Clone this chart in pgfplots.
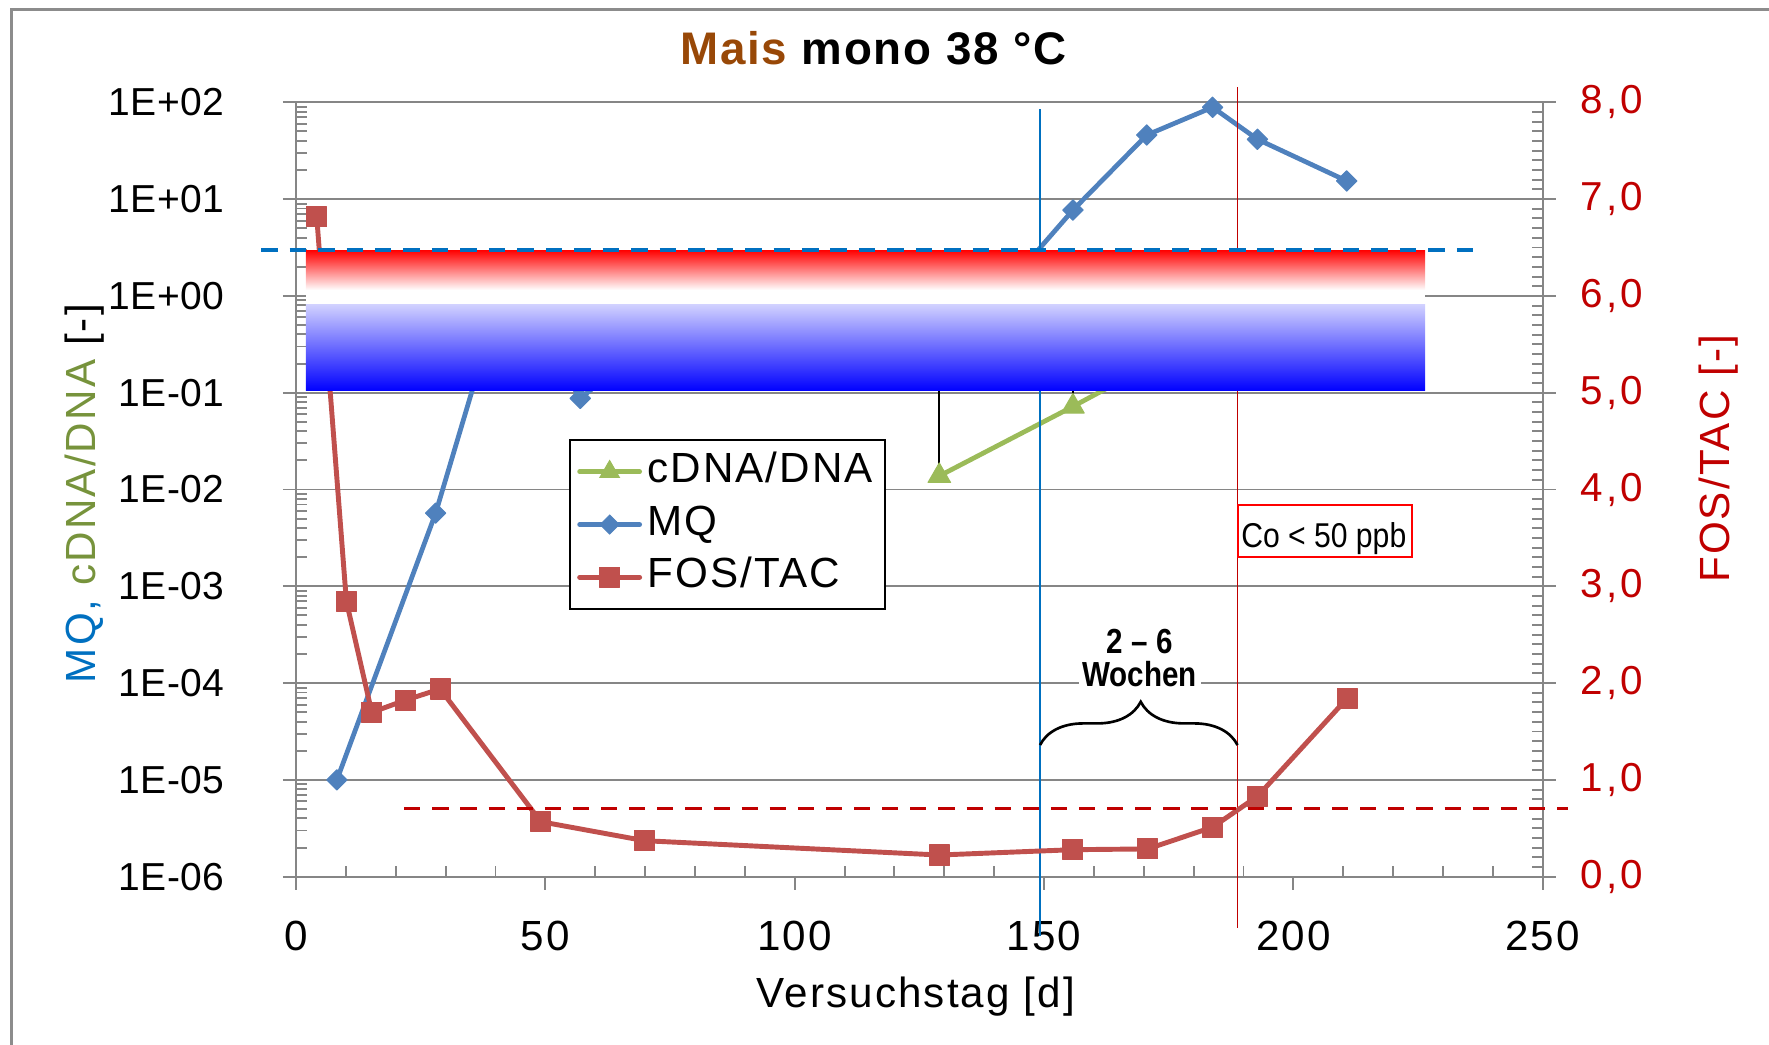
\documentclass[border=0pt]{standalone}
\usepackage{fontspec}
\setmainfont{Liberation Sans}[LetterSpace=5]
\usepackage{graphicx}
\usepackage{pgfplots}
\pgfplotsset{compat=1.18}
\usetikzlibrary{decorations.pathreplacing}

\definecolor{mqblue}{HTML}{4F81BD}
\definecolor{fosred}{HTML}{C0504D}
\definecolor{dnagreen}{HTML}{9BBB59}
\definecolor{lblblue}{HTML}{0070C0}
\definecolor{lblgreen}{HTML}{77933C}
\definecolor{darkred}{HTML}{C00000}
\definecolor{maisbrown}{HTML}{984807}
\definecolor{axgray}{HTML}{868686}
\definecolor{framegray}{HTML}{8C8C8C}
\definecolor{lav}{RGB}{210,210,255}

\begin{document}
\begin{tikzpicture}
\useasboundingbox (0,0) rectangle (17.69,10.44);
\draw[framegray, line width=0.7pt] (0.115,-1) rectangle (19,10.347);

% ---------------- left (log) axis ----------------
\begin{axis}[
  at={(2.96cm,1.673cm)}, anchor=south west,
  width=12.467cm, height=7.744cm, scale only axis,
  xmin=0, xmax=250, ymode=log, ymin=1e-6, ymax=1e2,
  axis x line*=bottom, axis y line*=left,
  axis line style={axgray, line width=0.6pt, -},
  xtick={0,50,100,150,200,250}, minor x tick num=4,
  ytick={1e-6,1e-5,1e-4,1e-3,1e-2,1e-1,1,10,100},
  yticklabels={1E-06,1E-05,1E-04,1E-03,1E-02,1E-01,1E+00,1E+01,1E+02},
  tick align=outside,
  major tick length=3.7pt, minor tick length=3.05pt,
  tick style={axgray, line width=0.55pt},
  minor x tick style={yshift=3.05pt},
  minor y tick style={xshift=3.05pt},
  ymajorgrids, grid style={axgray, line width=0.5pt},
  /pgf/number format/assume math mode=true,
  yticklabel style={font=\fontsize{11.1}{12}\selectfont\addfontfeatures{LetterSpace=1.5}, anchor=east, inner sep=0pt, xshift=-16.4pt},
  xticklabel style={font=\fontsize{12}{12}\selectfont, anchor=north, inner sep=0pt, yshift=-8.6pt},
  clip=false,
]
% error bars of cDNA/DNA (upper ends hidden by the band)
\addplot[black, line width=0.5pt, forget plot] coordinates {(129,0.0138) (129,0.4)};
\addplot[black, line width=0.5pt, forget plot] coordinates {(155.8,0.072) (155.8,0.5)};
% MQ
\addplot[mqblue, line width=1.35pt, line join=round, mark=square*, mark size=2.05pt,
  mark options={rotate=45, line width=0.3pt}] coordinates {
  (8.2,1e-5) (28.0,5.7e-3) (42,1.5) (57.0,0.0875) (70,0.3) (129,0.2)
  (155.8,7.7) (170.6,45.9) (183.8,88.8) (192.8,41.5) (210.7,15.4)};
% cDNA/DNA
\addplot[dnagreen, line width=1.35pt, line join=round, mark=triangle*, mark size=3.7pt,
  mark options={line width=0.3pt}] coordinates {
  (129,0.0138) (155.8,0.072) (171,0.19) (184,0.4) (193,0.35) (210.7,0.3)};
\end{axis}

% ---------------- right (linear) axis ----------------
\begin{axis}[
  at={(2.96cm,1.673cm)}, anchor=south west,
  width=12.467cm, height=7.744cm, scale only axis,
  xmin=0, xmax=250, ymin=0, ymax=8,
  axis y line*=right, axis x line=none, xtick=\empty,
  axis line style={axgray, line width=0.6pt, -},
  ytick={0,1,2,3,4,5,6,7,8}, minor y tick num=9,
  tick align=outside,
  major tick length=3.7pt, minor tick length=3.05pt,
  tick style={axgray, line width=0.55pt},
  minor y tick style={xshift=-3.05pt},
  /pgf/number format/assume math mode=true,
  yticklabel style={text=darkred, font=\fontsize{11.5}{12}\selectfont\addfontfeatures{LetterSpace=8}, anchor=west, inner sep=0pt, xshift=6.9pt,
    /pgf/number format/.cd, fixed, fixed zerofill, precision=1, use comma},
  clip=false,
  legend style={at={(0.2192,0.5648)}, anchor=north west, draw=black, line width=0.5pt, fill=white,
    font=\fontsize{12}{14}\selectfont, row sep=0pt, inner xsep=2pt, inner ysep=1.5pt,
    nodes={text height=9pt, text depth=3pt, inner sep=1.5pt}},
  legend cell align=left,
]
% vertical marker lines
\addplot[lblblue, line width=0.5pt, forget plot] coordinates {(149.2,7.928) (149.2,-0.613)};
\addplot[darkred, line width=0.55pt, forget plot] coordinates {(188.8,8.155) (188.8,-0.527)};

\addlegendimage{dnagreen, line width=1.35pt, line cap=round, mark=triangle*, mark size=3.2pt, mark options={line width=0.3pt}}
\addlegendentry{cDNA/DNA}
\addlegendimage{mqblue, line width=1.35pt, line cap=round, mark=square*, mark size=1.9pt, mark options={rotate=45, line width=0.3pt}}
\addlegendentry{MQ}
% FOS/TAC
\addplot[fosred, line width=1.4pt, line join=round, line cap=round, mark=square*, mark size=2.85pt,
  mark options={line width=0.3pt}] coordinates {
  (4.15,6.82) (10.1,2.846) (15.2,1.698) (22.0,1.825) (28.9,1.939) (49.1,0.568)
  (69.9,0.372) (129.0,0.224) (155.8,0.279) (170.8,0.287) (183.8,0.512)
  (192.8,0.830) (210.8,1.843)};
\addlegendentry{FOS/TAC}

% gradient band
\shade[top color=red, bottom color=white] (axis cs:2,6.06) rectangle (axis cs:226.4,6.474);
\fill[white] (axis cs:2,5.915) rectangle (axis cs:226.4,6.06);
\shade[top color=lav, bottom color=blue] (axis cs:2,5.018) rectangle (axis cs:226.4,5.915);

% threshold lines
\addplot[lblblue, line width=1pt, dash pattern=on 4.7pt off 3.4pt, forget plot] coordinates {(-7.0,6.474) (237.8,6.474)};
\addplot[darkred, line width=1pt, dash pattern=on 4.6pt off 3.4pt, forget plot] coordinates {(21.7,0.707) (255.1,0.707)};

% brace and text
\draw[black, line width=0.75pt, decorate, decoration={brace, amplitude=4.33mm, aspect=0.51}]
  (axis cs:149.2,1.36) -- (axis cs:188.8,1.36);
\node[anchor=base, inner sep=0pt] at (axis cs:169.2,2.308)
  {\fontsize{9.9}{10}\selectfont\addfontfeatures{LetterSpace=0}\scalebox{0.85}[1]{\bfseries 2 – 6}};
\node[anchor=base, fill=white, inner xsep=1pt, inner ysep=0.5pt] at (axis cs:169.2,1.970)
  {\fontsize{9.9}{10}\selectfont\addfontfeatures{LetterSpace=0}\scalebox{0.85}[1]{\bfseries Wochen}};

% Co box
\draw[red, line width=0.55pt, fill=white] (axis cs:188.98,3.300) rectangle (axis cs:223.8,3.843);
\node[anchor=base, inner sep=0pt] at (axis cs:206.1,3.398)
  {\fontsize{9.8}{10}\selectfont\addfontfeatures{LetterSpace=0}\scalebox{0.875}[1]{Co < 50 ppb}};
\end{axis}

% title and axis labels
\node[anchor=base, inner sep=0pt] at (8.733,9.79)
  {\fontsize{13}{13}\selectfont\bfseries\addfontfeatures{LetterSpace=4}{\color{maisbrown}Mais} mono 38 °C};
\node[anchor=base, inner sep=0pt] at (9.158,0.362)
  {\fontsize{12}{12}\selectfont Versuchstag [d]};
\node[rotate=90, anchor=base, inner sep=0pt] at (0.957,5.503)
  {\fontsize{12}{12}\selectfont{\color{lblblue}MQ,} {\color{lblgreen}cDNA/DNA} [-]};
\node[rotate=90, anchor=base, inner sep=0pt, text=darkred] at (17.297,5.851)
  {\fontsize{12}{12}\selectfont FOS/TAC [-]};
\end{tikzpicture}
\end{document}
